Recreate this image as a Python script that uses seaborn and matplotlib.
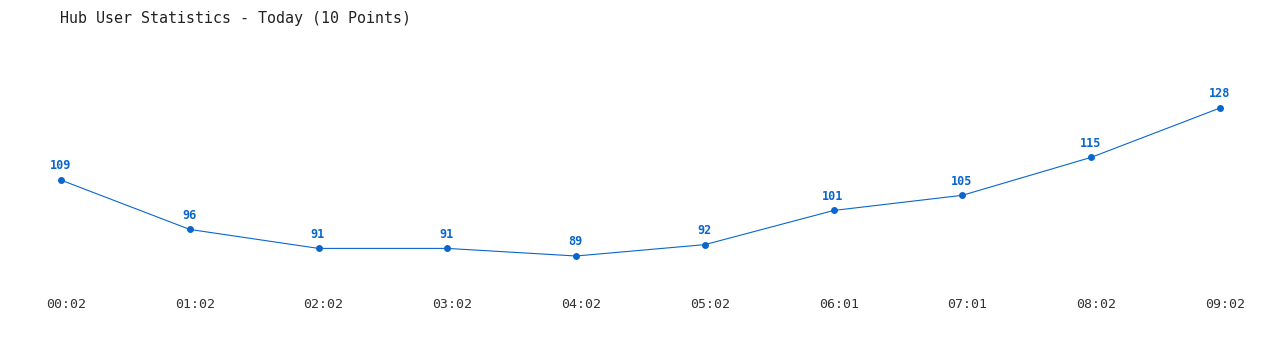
import matplotlib
matplotlib.use("Agg")
import matplotlib.pyplot as plt
import matplotlib.transforms as mtransforms
import seaborn as sns
import pandas as pd

times = ["00:02", "01:02", "02:02", "03:02", "04:02", "05:02", "06:01", "07:01", "08:02", "09:02"]
users = [109, 96, 91, 91, 89, 92, 101, 105, 115, 128]
title = "Hub User Statistics - Today (10 Points)"

sns.set_theme(style="white")
plt.rcParams['font.family'] = ['DejaVu Sans Mono', 'DejaVu Sans']

color = "#0a66cc"
df = pd.DataFrame({"idx": range(len(times)), "users": users})

fig = plt.figure(figsize=(12.8, 3.5), dpi=100)
ax = fig.add_axes([0, 60/350, 1, 290/350])
sns.lineplot(data=df, x="idx", y="users", ax=ax, color=color, linewidth=0.8,
             marker="o", markersize=5, markeredgewidth=0, markerfacecolor=color)
for i, v in enumerate(users):
    ax.annotate(str(v), (i, v), xytext=(-0.5, 5.5), textcoords="offset points",
                ha="center", va="bottom", fontsize=8.5, fontweight="bold", color=color)

ax.set_xlim(-0.4737, 9.4658)
ax.set_ylim(80.04, 156.46)
ax.set_xticks(range(len(times)))
ax.set_xticklabels(times, fontsize=9.5, color="#333333")
ax.tick_params(axis="x", length=0, pad=5.5)
shift = mtransforms.ScaledTranslation(5/100, 0, fig.dpi_scale_trans)
for lbl in ax.get_xticklabels():
    lbl.set_transform(lbl.get_transform() + shift)
ax.set_yticks([])
ax.set_xlabel("")
ax.set_ylabel("")
for s in ax.spines.values():
    s.set_visible(False)
fig.text(60/1280, 1 - 18/350, title, fontsize=10.8, ha="left", va="center", color="#222222")
fig.savefig("out.png", dpi=100)
